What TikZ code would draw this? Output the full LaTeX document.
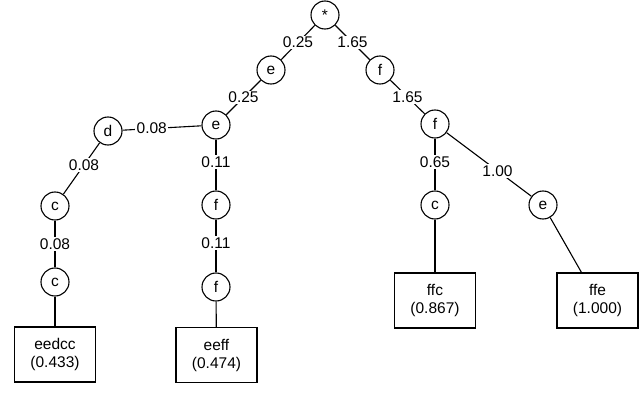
\documentclass[tikz,border=0pt]{standalone}
\usepackage{fontspec}
\setmainfont{Liberation Sans}
\usepackage{tikz}

\begin{document}
\begin{tikzpicture}[x=1pt, y=-1pt,
    every node/.style={font=\fontsize{15.5}{18}\selectfont},
    state/.style={draw, circle, line width=1.1pt, minimum size=28pt, inner sep=0pt},
    leaf/.style={draw, rectangle, line width=1.1pt, minimum width=81pt, minimum height=55pt, align=center, inner sep=1pt},
    weight/.style={fill=white, inner sep=1.5pt},
    edge/.style={line width=1.1pt}]

\useasboundingbox (0,0) rectangle (640,409);

% --- Root ---
\node[state] (root) at (325,15) {*};

% --- Left branch (e e ...) ---
\node[state] (e1) at (271,70) {e};
\node[state] (e2) at (216,125) {e};
\node[state] (d) at (108,131) {d};
\node[state] (c1) at (55,206) {c};
\node[state] (c2) at (55,282) {c};
\node[state] (f1) at (216,205) {f};
\node[state] (f2) at (216,287) {f};

% --- Right branch (f f ...) ---
\node[state] (fr1) at (380,70) {f};
\node[state] (fr2) at (435,124) {f};
\node[state] (cr) at (435,205) {c};
\node[state] (er) at (543,205) {e};

% --- Leaves ---
\node[leaf] (eedcc) at (55,354.5) {eedcc\\(0.433)};
\node[leaf] (eeff) at (216.5,355) {eeff\\(0.474)};
\node[leaf] (ffc) at (435,300.5) {ffc\\(0.867)};
\node[leaf] (ffe) at (597.5,300.5) {ffe\\(1.000)};

% --- Weighted edges ---
\draw[edge] (root) -- node[weight] {0.25} (e1);
\draw[edge] (e1) -- node[weight] {0.25} (e2);
\draw[edge] (e2) -- node[weight, pos=0.63] {0.08} (d);
\draw[edge] (d) -- node[weight, pos=0.43] {0.08} (c1);
\draw[edge] (c1) -- node[weight] {0.08} (c2);
\draw[edge] (e2) -- node[weight, pos=0.45] {0.11} (f1);
\draw[edge] (f1) -- node[weight, pos=0.45] {0.11} (f2);
\draw[edge] (root) -- node[weight] {1.65} (fr1);
\draw[edge] (fr1) -- node[weight] {1.65} (fr2);
\draw[edge] (fr2) -- node[weight, pos=0.45] {0.65} (cr);
\draw[edge] (fr2) -- node[weight, pos=0.6] {1.00} (er);

% --- Edges to leaves ---
\draw[edge] (c2) -- (eedcc);
\draw[edge] (f2) -- (eeff);
\draw[edge] (cr) -- (ffc);
\draw[edge] (er) -- (ffe);

\end{tikzpicture}
\end{document}
